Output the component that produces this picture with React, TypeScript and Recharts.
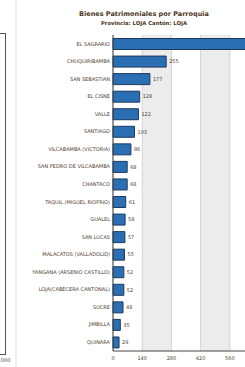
import { BarChart, Bar, XAxis, YAxis, CartesianGrid, LabelList } from 'recharts';

const parroquias = [
  'EL SAGRARIO',
  'CHUQUIRIBAMBA',
  'SAN SEBASTIAN',
  'EL CISNE',
  'VALLE',
  'SANTIAGO',
  'VILCABAMBA (VICTORIA)',
  'SAN PEDRO DE VILCABAMBA',
  'CHANTACO',
  'TAQUIL (MIGUEL RIOFRIO)',
  'GUALEL',
  'SAN LUCAS',
  'MALACATOS (VALLADOLID)',
  'YANGANA (ARSENIO CASTILLO)',
  'LOJA(CABECERA CANTONAL)',
  'SUCRE',
  'JIMBILLA',
  'QUINARA',
];
const bienes = [690, 255, 177, 128, 122, 103, 86, 68, 68, 61, 58, 57, 55, 52, 52, 48, 35, 29];
const xTicks = [0, 140, 280, 420, 560];

const TEXT_COLOR = '#4f4030';
const BAR_FILL = '#2a6fb3';
const BAR_STROKE = '#1c3a5e';
const FONT = '"DejaVu Sans", Verdana, sans-serif';

const data = parroquias.map((name, i) => ({ name, value: bienes[i] }));

// etiqueta del eje Y en una sola linea, sin cortes
const NameTick = ({ x, y, payload }: any) => (
  <text x={x} y={y} dy={1.8} textAnchor="end" fill={TEXT_COLOR} fontSize={5} fontFamily={FONT}>
    {payload.value}
  </text>
);

export default function App() {
  return (
    <div style={{ position: 'absolute', left: 0, top: 0, width: 245, height: 367, overflow: 'hidden', background: '#fff', fontFamily: FONT }}>
      {/* pieza del panel vecino a la izquierda */}
      <div style={{ position: 'absolute', left: 0, top: 33, width: 5, height: 320, borderTop: '1px solid #555', borderRight: '1px solid #555', borderBottom: '1px solid #555' }} />
      <div style={{ position: 'absolute', left: -4, top: 357, fontSize: 5, color: TEXT_COLOR }}>0,000</div>
      <div style={{ position: 'absolute', left: 15, top: 0, width: 2, height: 367, background: '#eceef3' }} />

      {/* titulos */}
      <div style={{ position: 'absolute', left: 20, width: 248, top: 10, textAlign: 'center', fontSize: 6.5, fontWeight: 700, color: '#4a3522' }}>
        Bienes Patrimoniales por Parroquia
      </div>
      <div style={{ position: 'absolute', left: 20, width: 248, top: 20, textAlign: 'center', fontSize: 5.3, fontWeight: 700, color: '#4a3522' }}>
        Provincia: LOJA Cantón: LOJA
      </div>

      <div style={{ position: 'absolute', left: 0, top: 0 }}>
        <BarChart
          width={270}
          height={367}
          data={data}
          layout="vertical"
          margin={{ top: 35, right: 11, bottom: 4, left: 0 }}
          barCategoryGap="20%"
        >
          <CartesianGrid horizontal={false} stroke="#d4d4d4" verticalFill={['#ffffff', '#ececec']} />
          <XAxis
            type="number"
            domain={[0, 700]}
            ticks={xTicks}
            interval={0}
            height={12}
            tickLine={false}
            tickSize={0}
            tickMargin={5}
            axisLine={{ stroke: '#444' }}
            tick={{ fill: TEXT_COLOR, fontSize: 5, fontFamily: FONT }}
          />
          <XAxis
            xAxisId="top"
            type="number"
            orientation="top"
            domain={[0, 700]}
            height={0}
            tick={false}
            tickLine={false}
            axisLine={{ stroke: '#9a9a9a' }}
          />
          <YAxis
            type="category"
            dataKey="name"
            width={113}
            interval={0}
            tickLine={false}
            tickSize={0}
            tickMargin={3}
            axisLine={{ stroke: '#444' }}
            tick={<NameTick />}
          />
          <Bar dataKey="value" fill={BAR_FILL} stroke={BAR_STROKE} strokeWidth={1} isAnimationActive={false}>
            <LabelList dataKey="value" position="right" offset={3} fill={TEXT_COLOR} fontSize={5} fontFamily={FONT} />
          </Bar>
        </BarChart>
      </div>
    </div>
  );
}
